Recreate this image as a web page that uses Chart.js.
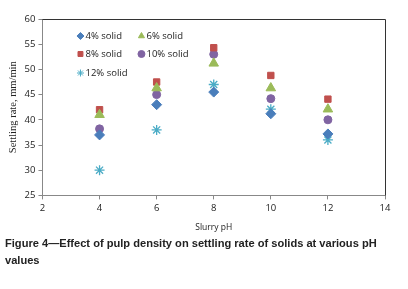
<!DOCTYPE html>
<html>
<head>
<meta charset="utf-8">
<script src="https://cdn.jsdelivr.net/npm/chart.js@4"></script>
<style>
  html, body { margin: 0; padding: 0; background: #fff; }
  #wrap { width: 408px; height: 237px; position: relative; }
  #caption { position: absolute; left: 5px; top: 235px; width: 385px; font: bold 11.1px "Liberation Sans", Arial, sans-serif; line-height: 17px; color: #222; }
</style>
</head>
<body>
<div id="wrap"><canvas id="chart"></canvas></div>
<div id="caption">Figure 4—Effect of pulp density on settling rate of solids at various pH values</div>
<script>
const phValues = [4, 6, 8, 10, 12];
const solid4 = [37, 43, 45.5, 41.2, 37.2];
const solid6 = [41, 46.3, 51.2, 46.3, 42.1];
const solid8 = [42, 47.5, 54.3, 48.8, 44.1];
const solid10 = [38.2, 45, 53, 44.2, 40];
const solid12 = [30, 38, 47, 42.1, 36];
const seriesLabels = ['4% solid', '6% solid', '8% solid', '10% solid', '12% solid'];

function pts(arr) { return phValues.map((x, i) => ({ x: x, y: arr[i] })); }

const styles = [
  { color: '#4a7ebb', shape: 'rectRot', r: 5 },
  { color: '#9bbb59', shape: 'triangle', r: 5.5 },
  { color: '#c0504d', shape: 'rect', r: 4.5 },
  { color: '#8064a2', shape: 'circle', r: 4 },
  { color: '#4bacc6', shape: 'star', r: 5 }
];

const allSeries = [solid4, solid6, solid8, solid10, solid12];
const datasets = allSeries.map((s, i) => ({
  label: seriesLabels[i],
  data: pts(s),
  pointStyle: styles[i].shape,
  pointRadius: styles[i].r,
  backgroundColor: styles[i].color,
  borderColor: styles[i].color,
  borderWidth: styles[i].shape === 'star' ? 1.3 : 1
}));

// legend drawn inside the plot, two columns
const innerLegend = {
  id: 'innerLegend',
  afterDatasetsDraw(chart) {
    const { ctx, chartArea } = chart;
    const spots = [[38, 17], [99, 17], [38, 35], [99, 35], [38, 54]];
    ctx.save();
    ctx.font = '9.5px "Open Sans", "DejaVu Sans", sans-serif';
    ctx.textBaseline = 'middle';
    chart.data.datasets.forEach((ds, i) => {
      const x = chartArea.left + spots[i][0];
      const y = chartArea.top + spots[i][1];
      ctx.fillStyle = ds.backgroundColor;
      ctx.strokeStyle = ds.borderColor;
      Chart.helpers.drawPoint(ctx, { pointStyle: ds.pointStyle, radius: 3.5, borderWidth: ds.borderWidth }, x, y);
      ctx.fillStyle = '#222';
      ctx.fillText(ds.label, x + 5, y);
    });
    // top and right frame
    ctx.strokeStyle = '#333';
    ctx.lineWidth = 1;
    ctx.beginPath();
    ctx.moveTo(chartArea.left, chartArea.top + 0.5);
    ctx.lineTo(chartArea.right + 0.5, chartArea.top + 0.5);
    ctx.lineTo(chartArea.right + 0.5, chartArea.bottom);
    ctx.stroke();
    ctx.restore();
  }
};

new Chart(document.getElementById('chart'), {
  type: 'scatter',
  data: { datasets: datasets },
  options: {
    responsive: true,
    maintainAspectRatio: false,
    animation: false,
    layout: { padding: { left: 3, right: 23, top: 19, bottom: 0 } },
    plugins: { legend: { display: false }, tooltip: { enabled: false } },
    scales: {
      x: {
        min: 2, max: 14,
        ticks: { stepSize: 2, color: '#222', font: { size: 9.5, family: 'Open Sans' }, padding: 3 },
        grid: { drawOnChartArea: false, tickLength: 4, color: '#888' },
        border: { color: '#888' },
        title: { display: true, text: 'Slurry pH', color: '#222', font: { size: 8.5, family: 'Open Sans' }, padding: { top: 6 } }
      },
      y: {
        min: 25, max: 60,
        ticks: { stepSize: 5, color: '#222', font: { size: 9.5, family: 'Open Sans' }, padding: 3 },
        grid: { drawOnChartArea: false, tickLength: 4, color: '#888' },
        border: { color: '#888' },
        title: { display: true, text: 'Settling rate, mm/min', color: '#222', font: { size: 10.5, family: 'Liberation Serif' }, padding: { bottom: 2 } }
      }
    }
  },
  plugins: [innerLegend]
});
</script>
</body>
</html>
